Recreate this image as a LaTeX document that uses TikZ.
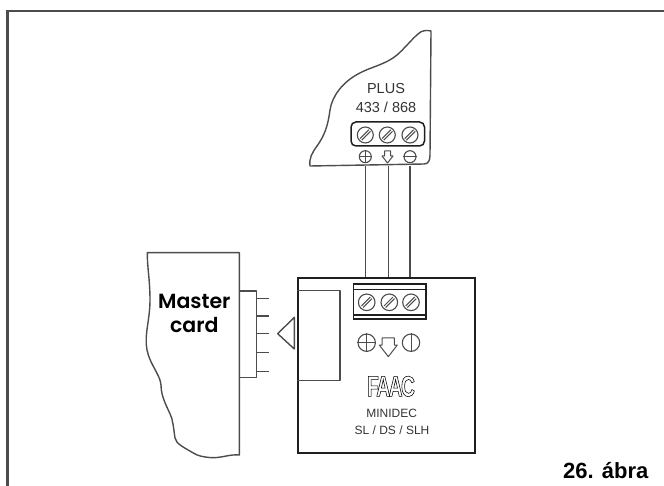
\documentclass[tikz,border=0pt]{standalone}
\usepackage{fontspec}
\setmainfont{Liberation Sans}
\newfontfamily\cardfont{Poppins SemiBold}
\newfontfamily\logofont[FakeStretch=0.66,LetterSpace=-5]{Liberation Sans Bold}
\definecolor{ln}{gray}{0.3}
\definecolor{dk}{gray}{0.12}
\definecolor{tx}{gray}{0.2}
\newcommand{\pxfont}[1]{\fontsize{#1}{#1}\selectfont}
\tikzset{
  thinline/.style={draw=ln,line width=1.4pt,line join=round},
  heavy/.style={draw=dk,line width=1.8pt},
  wire/.style={draw=ln,line width=1.6pt},
  framed/.style={draw=ln,line width=2.4pt},
  lab/.style={text=tx,inner sep=0pt,anchor=center},
  screwa/.style={circle,draw=ln,line width=1.1pt,minimum size=16pt,inner sep=0pt},
  symb/.style={circle,draw=ln,line width=1.1pt,inner sep=0pt},
  slot/.style={draw=ln,line width=1pt}
}
\newcommand{\slots}[1]{%
  \draw[slot] ([shift={(-5.2,3.6)}]#1.center) -- ([shift={(3.6,-5.2)}]#1.center);
  \draw[slot] ([shift={(-3.6,5.2)}]#1.center) -- ([shift={(5.2,-3.6)}]#1.center);
}
\begin{document}
\begin{tikzpicture}[x=1pt,y=-1pt]
\useasboundingbox (0,0) rectangle (664,486);
% frame
\draw[framed] (7.5,486) -- (7.5,11) -- (664,11);
% PLUS module
\draw[thinline] (310,166) .. controls (309,158) and (312,153) .. (317,146)
  .. controls (325,135) and (328,125) .. (330,110)
  .. controls (332,96) and (343,82) .. (358,74)
  .. controls (370,67) and (385,65) .. (397,55)
  .. controls (405,48) and (411,40) .. (418,34)
  .. controls (422,30) and (427,30) .. (431,31)
  -- (430,155) .. controls (430,161) and (428,164) .. (424,164) -- cycle;
\node[lab,font=\pxfont{14.5}] (plusa) at (386,89) {PLUS};
\node[lab,font=\pxfont{14.5}] (plusb) at (386,107.7) {433 / 868};
\draw[draw=dk,line width=1.5pt,rounded corners=5pt] (351,122) rectangle (424.5,146);
\node[screwa] (ps1) at (365.3,135) {}; \slots{ps1}
\node[screwa] (ps2) at (387.3,135) {}; \slots{ps2}
\node[screwa] (ps3) at (410,135) {}; \slots{ps3}
\node[symb,minimum size=12pt] (psym1) at (365.3,156.7) {};
\draw[slot] (psym1.north) -- (psym1.south) (psym1.west) -- (psym1.east);
\draw[slot,line join=round] (384.5,151) -- (390.5,151) -- (390.5,156) -- (393,156) -- (387.5,163) -- (382,156) -- (384.5,156) -- cycle;
\node[symb,minimum size=12pt] (psym3) at (410,156.7) {};
\draw[slot] (psym3.west) -- (psym3.east);
% MINIDEC
\node[heavy,minimum width=176.7pt,minimum height=175pt,inner sep=0pt] (mbox) at (386.65,365.8) {};
\coordinate (wa) at (psym1.south |- 0,166);
\coordinate (wb) at (388.3,166);
\coordinate (wc) at (psym3.south |- 0,166);
\draw[wire] (wa) -- (wa |- mbox.north);
\draw[wire] (wb) -- (wb |- mbox.north);
\draw[wire] (wc) -- (wc |- mbox.north);
\draw[thinline] (mbox.west |- 0,290.7) -- (340,290.7) -- (340,380.7) -- (mbox.west |- 0,380.7);
\draw[heavy] (353.5,284) rectangle (425.7,319.3);
\draw[draw=dk,line width=1.2pt] (353.5,289.3) -- (425.7,289.3) (353.5,315) -- (425.7,315);
\node[screwa,minimum size=16.6pt] (ms1) at (366.7,302.3) {}; \slots{ms1}
\node[screwa,minimum size=16.6pt] (ms2) at (389.3,302.3) {}; \slots{ms2}
\node[screwa,minimum size=16.6pt] (ms3) at (411,302.3) {}; \slots{ms3}
\node[symb,minimum size=17.4pt] (msym1) at (366.7,342.7) {};
\draw[slot] (msym1.north) -- (msym1.south) (msym1.west) -- (msym1.east);
\draw[slot,line join=round] (382,338) -- (394.3,338) -- (394.3,345) -- (397.3,345) -- (388.3,356.7) -- (379.3,345) -- (382,345) -- cycle;
\node[symb,minimum size=17.4pt] (msym3) at (411,342.7) {};
\draw[slot] (msym3.north) -- (msym3.south);
\node[inner sep=0pt] (logo) at (391,386.4) {\special{pdf:literal direct 1 Tr 0.55 w}\pxfont{29}\logofont FAAC\special{pdf:literal direct 0 Tr}};
\node[lab,font=\pxfont{12}] (mname) at (391.7,413.7) {MINIDEC};
\node[lab,font=\pxfont{12}] (mtype) at (392,430.7) {SL / DS / SLH};
% Master card
\draw[thinline] (147.3,252.7) -- (239.3,252.7) -- (239.3,455)
  .. controls (230,454) and (222,458) .. (211.7,457.7)
  .. controls (203,457) and (198,456) .. (193.3,453)
  .. controls (185,448) and (176,444) .. (175,438)
  .. controls (174,432) and (174,428) .. (171.7,418)
  .. controls (168,408) and (161,398) .. (161,385)
  .. controls (160,374) and (150,365) .. (147,350)
  .. controls (144,335) and (150,320) .. (150,300)
  .. controls (150,280) and (147,265) .. (147.3,252.7) -- cycle;
\node[inner sep=0pt] (mc1) at (194.3,301) {\pxfont{20.5}\cardfont Master};
\node[inner sep=0pt] (mc2) at (194.3,325) {\pxfont{20.5}\cardfont card};
\draw[thinline] (239.3,291) -- (256.7,291) -- (256.7,377.7) -- (239.3,377.7);
\foreach \yy in {298.7,316,333.7,352.3,371.7} \draw[thinline] (256.7,\yy) -- (269,\yy);
\coordinate (ta) at (294.3,317.3);
\coordinate (tb) at (277.7,333.7);
\coordinate (tc) at (294.3,349);
\draw[thinline] (ta) -- (tb) -- (tc) -- cycle;
\node[anchor=base west,inner sep=0pt,text=black] (fig) at (563,478) {\pxfont{22}\bfseries 26. ábra};
\end{tikzpicture}
\end{document}
